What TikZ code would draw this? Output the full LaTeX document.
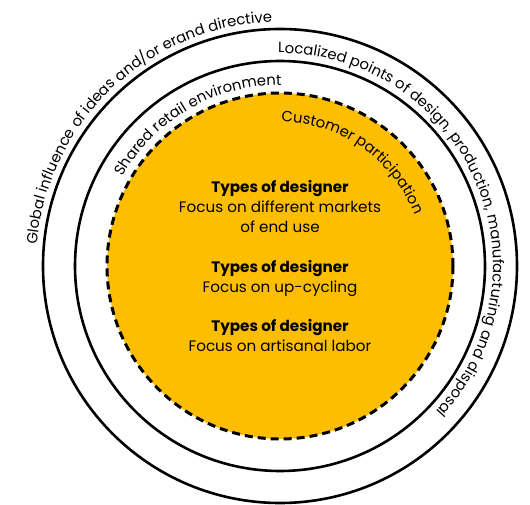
\documentclass[tikz,border=0pt]{standalone}
\usepackage{fontspec}
\setmainfont{Poppins}
\usetikzlibrary{positioning,decorations.text}
\definecolor{amarillo}{HTML}{FDBD00}
\newcommand\letraarco{\fontsize{14.8}{17}\selectfont}
\tikzset{
	anillo/.style={draw=black, line width=2.6pt},
	nucleo/.style={fill=amarillo, draw=black, line width=3pt, 
		dash pattern=on 8pt off 5pt},
	rotulo/.style={decorate, decoration={text along path, text={#1}}},
	tipo/.style={font=\fontsize{15.2}{19.5}\selectfont\bfseries, inner sep=0pt, 
		text height=13pt, text depth=6.5pt},
	foco/.style={font=\fontsize{15.2}{19.5}\selectfont, inner sep=0pt, 
		text height=13pt, text depth=6.5pt}
}

\begin{document}
\begin{tikzpicture}[x=1pt, y=1pt, node distance=19.5pt]
	\useasboundingbox (0,0) rectangle (530,-505);
	\coordinate (c) at (280,-266);
	
	\draw[anillo] (c) circle[radius=237];
	\draw[anillo] (c) circle[radius=205];
	\draw[nucleo] (c) circle[radius=173];
	
	\path[rotulo={|\letraarco|Global influence of ideas and/or erand directive}] 
		([shift={(175:244)}]c) arc[start angle=175, end angle=70, radius=244];
	\path[rotulo={|\letraarco|Localized points of design, production, manufacturing and disposal}] 
		([shift={(90.5:213)}]c) arc[start angle=90.5, end angle=-70, radius=213];
	\path[rotulo={|\letraarco|Shared retail environment}] 
		([shift={(150.5:181)}]c) arc[start angle=150.5, end angle=70, radius=181];
	\path[rotulo={|\letraarco|Customer participation}] 
		([shift={(89.5:144)}]c) arc[start angle=89.5, end angle=0, radius=144];
	
	\node[tipo, anchor=base] (tipo1) at (280,-193) {Types of designer};
	\node[foco, below=0pt of tipo1] (foco1) {Focus on different markets};
	\node[foco, below=0pt of foco1] (foco1b) {of end use};
	\node[tipo, below=of foco1b] (tipo2) {Types of designer};
	\node[foco, below=0pt of tipo2] (foco2) {Focus on up-cycling};
	\node[tipo, below=of foco2] (tipo3) {Types of designer};
	\node[foco, below=0pt of tipo3] (foco3) {Focus on artisanal labor};
\end{tikzpicture}
\end{document}
